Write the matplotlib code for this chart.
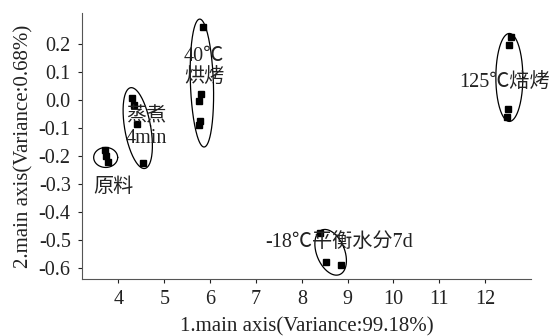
import numpy as np
import matplotlib
matplotlib.use("Agg")
import matplotlib.pyplot as plt

plt.rcParams['font.family'] = ['Liberation Serif', 'Noto Sans CJK SC']
plt.rcParams['axes.unicode_minus'] = False

# sample scores on the two main axes
raw_x = [3.70, 3.73, 3.77]
raw_y = [-0.180, -0.200, -0.222]
steam_x = [4.30, 4.33, 4.41, 4.54]
steam_y = [0.005, -0.020, -0.085, -0.227]
dry40_x = [5.85, 5.79, 5.76, 5.77, 5.76]
dry40_y = [0.262, 0.020, -0.003, -0.075, -0.089]
frozen_x = [8.39, 8.52, 8.85]
frozen_y = [-0.475, -0.578, -0.589]
bake125_x = [12.56, 12.53, 12.49, 12.47]
bake125_y = [0.225, 0.195, -0.032, -0.062]

groups = [(raw_x, raw_y), (steam_x, steam_y), (dry40_x, dry40_y),
          (frozen_x, frozen_y), (bake125_x, bake125_y)]

# ellipses: center (data), half axes in pixels, tilt from vertical (deg)
ell_center = [(3.72, -0.206), (4.42, -0.101), (5.82, 0.06),
              (8.63, -0.545), (12.53, 0.08)]
ell_size = [(12, 10), (13, 41), (11.5, 64), (14, 24), (13.5, 44)]
ell_tilt = [0, -10, -2, -22, 0]

labels = ["原料", "蒸煮\n4min", "40℃\n烘烤", "-18℃平衡水分7d", "125℃焙烤"]
label_pos = [(3.89, -0.312), (4.61, -0.10), (5.87, 0.117), (8.82, -0.51), (12.43, 0.06)]

fig = plt.figure(figsize=(5.53, 3.36), dpi=100)
ax = fig.add_axes([0.148, 0.170, 0.812, 0.791])
ax.set_xlim(3.2, 13.0)
ax.set_ylim(-0.64, 0.31)

for gx, gy in groups:
    ax.plot(gx, gy, 's', color='black', markersize=4.3)

# pixel scale for drawing ellipses
sx = 0.812 * 553 / (13.0 - 3.2)
sy = 0.791 * 336 / (0.31 + 0.64)
t = np.linspace(0, 2 * np.pi, 200)
for (cx, cy), (b, a), tilt in zip(ell_center, ell_size, ell_tilt):
    th = np.deg2rad(tilt)
    px = b * np.cos(t)
    py = a * np.sin(t)
    rx = px * np.cos(th) + py * np.sin(th)
    ry = -px * np.sin(th) + py * np.cos(th)
    ax.plot(cx + rx / sx, cy + ry / sy, color='black', lw=0.9)

for txt, (lx, ly) in zip(labels, label_pos):
    ax.text(lx, ly, txt, ha='center', va='center', fontsize=14.5, color='#222222',
            linespacing=1.2)

ax.set_xticks([4, 5, 6, 7, 8, 9, 10, 11, 12])
ax.set_yticks([0.2, 0.1, 0.0, -0.1, -0.2, -0.3, -0.4, -0.5, -0.6])
ax.set_yticklabels(["0.2", "0.1", "0.0", "-0.1", "-0.2", "-0.3", "-0.4", "-0.5", "-0.6"])
ax.tick_params(direction='out', length=3, labelsize=14.5, colors='#222222', pad=5)
ax.spines['top'].set_visible(False)
ax.spines['right'].set_visible(False)
for s in ['left', 'bottom']:
    ax.spines[s].set_color('#555555')

ax.set_xlabel("1.main axis(Variance:99.18%)", fontsize=15, color='#222222', labelpad=6)
ax.set_ylabel("2.main axis(Variance:0.68%)", fontsize=15, color='#222222', labelpad=4)

fig.savefig("out.png", dpi=100)
